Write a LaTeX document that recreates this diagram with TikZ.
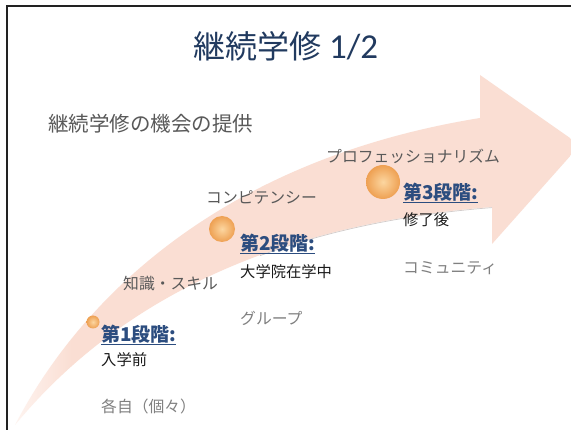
\documentclass[tikz,border=0pt]{standalone}
\usepackage{fontspec}
\setmainfont{Noto Sans CJK JP}
\newfontfamily\jp{Noto Sans CJK JP}
\newfontfamily\lat{Carlito}
\definecolor{apink}{RGB}{250,222,211}
\definecolor{apinklight}{RGB}{254,244,240}
\definecolor{titleblue}{RGB}{33,58,95}
\definecolor{stageblue}{RGB}{44,77,127}
\definecolor{darkgray}{RGB}{89,89,89}
\definecolor{lightgray}{RGB}{128,128,128}
\definecolor{txtblack}{RGB}{26,26,26}
\definecolor{orangein}{RGB}{252,214,160}
\definecolor{orangeout}{RGB}{238,160,82}
\definecolor{framecol}{RGB}{34,34,34}
\definecolor{shadowcol}{RGB}{180,170,168}
\pgfdeclarehorizontalshading{arrowshade}{100bp}{color(0bp)=(apinklight); color(25bp)=(apinklight); color(30bp)=(apink); color(100bp)=(apink)}
\begin{document}
\begin{tikzpicture}[x=1pt,y=-1pt,
  lbl/.style={anchor=west, inner sep=0pt, font=\jp\fontsize{15.8}{17}\selectfont},
  graylbl/.style={lbl, text=darkgray},
  paletext/.style={lbl, text=lightgray},
  stagetxt/.style={anchor=west, inner sep=0pt, text=stageblue, font=\jp\bfseries\fontsize{19}{21}\selectfont},
  desctxt/.style={lbl, text=txtblack, font=\jp\fontsize{15.3}{17}\selectfont},
  bubble/.style={circle, inner sep=0pt, shading=radial, inner color=orangein, outer color=orangeout}
]
\useasboundingbox (0,0) rectangle (571,430);
\fill[white] (0,0) rectangle (571,430);
% curved arrow
\path[shading=arrowshade]
  (15,425) .. controls (80,300) and (220,160) .. (480,118)
  -- (480,75) -- (580,145) -- (492,244) -- (492,207)
  .. controls (260,225) and (110,310) .. (15,425) -- cycle;
\begin{scope}
  \clip (260,150) rectangle (492,260);
  \draw[shadowcol, line width=0.7pt, opacity=0.6] (492,207.6) .. controls (260,225.6) and (110,310.6) .. (15,425.6);
\end{scope}
% frame
\draw[framecol, line width=2pt] (7,430) -- (7,5.7) -- (571,5.7);
% title
\node[anchor=center, inner sep=0pt, text=titleblue, font=\jp\fontsize{32}{35}\selectfont] (title) at (286,46) {継続学修 {\lat\fontsize{35}{37}\selectfont 1/2}};
\node[lbl, text=darkgray, font=\jp\fontsize{20.5}{22}\selectfont] (sub) at (48,124) {継続学修の機会の提供};
% gray labels
\node[graylbl] (prof) at (326,156) {プロフェッショナリズム};
\node[graylbl] (comp) at (206,197) {コンピテンシー};
\node[graylbl] (chis) at (123,284) {知識・スキル};
\node[paletext] (grp) at (240,318) {グループ};
\node[paletext] (comm) at (403,268) {コミュニティ};
\node[paletext] (kaku) at (101,406) {各自（個々）};
% bubbles
\node[bubble, minimum size=13pt] (b1) at (93,322) {};
\node[bubble, minimum size=26pt] (b2) at (222,229) {};
\node[bubble, minimum size=34pt] (b3) at (383,182) {};
% stages
\node[stagetxt] (s1) at (101,335) {\underline{第1段階:}};
\node[desctxt] (s1d) at (101,360) {入学前};
\node[stagetxt] (s2) at (240,244) {\underline{第2段階:}};
\node[desctxt] (s2d) at (240,272) {大学院在学中};
\node[stagetxt] (s3) at (403,193) {\underline{第3段階:}};
\node[desctxt] (s3d) at (403,220) {修了後};
\end{tikzpicture}
\end{document}
